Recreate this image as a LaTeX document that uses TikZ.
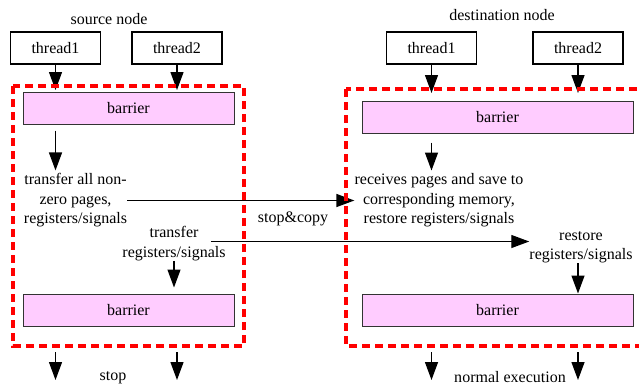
\documentclass[tikz,border=0pt]{standalone}
\usepackage{fontspec}
\setmainfont{Liberation Serif}
\usetikzlibrary{arrows.meta,positioning}

\definecolor{barrierpink}{RGB}{255,204,255}
\newcommand{\txtsize}{\fontsize{16}{19.5}\selectfont}

\begin{document}
\begin{tikzpicture}[x=1pt, y=-1pt,
		thread/.style={draw, line width=1.2pt, minimum width=90pt, minimum height=32pt, font=\txtsize},
		barrier/.style={draw=black!80, fill=barrierpink, line width=1pt, minimum height=32pt, font=\txtsize},
		label/.style={align=center, inner sep=0pt, font=\txtsize},
		flow/.style={-{Triangle[length=18pt,width=13pt]}, line width=1.3pt},
		phase/.style={red, line width=4pt, dash pattern=on 8pt off 5pt},
	]
		\clip (0,0) rectangle (639,388);

		% source node
		\node[label] (src) at (109,19) {source node};
		\node[thread] (st1) at (55.5,48) {thread1};
		\node[thread] (st2) at (177,48) {thread2};
		\node[barrier, minimum width=211pt] (sbar1) at (128.5,108) {barrier};
		\node[barrier, minimum width=211pt] (sbar2) at (128.5,310) {barrier};
		\node[label] (xfer) at (75.5,200.5) {transfer all non-\\zero pages,\\registers/signals};
		\node[label] (xregs) at (174,243.5) {transfer\\registers/signals};
		\node[label] (stop) at (113,378) {stop};
		\coordinate (snw) at (13,86);
		\coordinate (sse) at (244,346);

		% destination node
		\node[label] (dst) at (502,15) {destination node};
		\node[thread] (dt1) at (431.5,48) {thread1};
		\node[thread] (dt2) at (578,48) {thread2};
		\node[barrier, minimum width=271pt] (dbar1) at (497.5,117) {barrier};
		\node[barrier, minimum width=271pt] (dbar2) at (497.5,310) {barrier};
		\node[label] (recv) at (439,200.5) {receives pages and save to\\corresponding memory,\\restore registers/signals};
		\node[label] (restore) at (581,247) {restore\\registers/signals};
		\node[label] (normal) at (510,377) {normal execution};
		\coordinate (dnw) at (346,89);
		\coordinate (dse) at (670,346);

		\node[label] (copy) at (293,219) {stop\&copy};

		% threads into the first barrier
		\foreach \n/\top in {st1/snw,st2/snw,dt1/dnw,dt2/dnw}
			\draw[flow] (\n.south) -- ([yshift=-4pt]\n.south |- \top);

		% source side
		\draw[flow] ([yshift=-6pt]sbar1.south -| st1.south) -- ([yshift=3pt]st1.south |- xfer.north);
		\draw[flow] (xregs.south) -- ([yshift=6pt]xregs.south |- sbar2.north);
		\draw[flow] (xfer.east) -- (recv.west);
		\draw[flow] ([xshift=-15pt,yshift=2pt]xregs.east) coordinate (x0) -- (x0 -| restore.west);

		% destination side
		\draw[flow] ([yshift=-9pt]dbar1.south -| dt1.south) -- ([yshift=3pt]dt1.south |- recv.north);
		\draw[flow] (restore.south -| dt2.south) -- (dt2.south |- dbar2.north);

		% leaving the phase
		\foreach \n in {st1,st2,dt1,dt2}
			\draw[flow] (\n.south |- 0,352) -- (\n.south |- 0,380);

		% migration phases
		\draw[phase] (snw) rectangle (sse);
		\draw[phase] (dnw) rectangle (dse);
	\end{tikzpicture}
\end{document}
